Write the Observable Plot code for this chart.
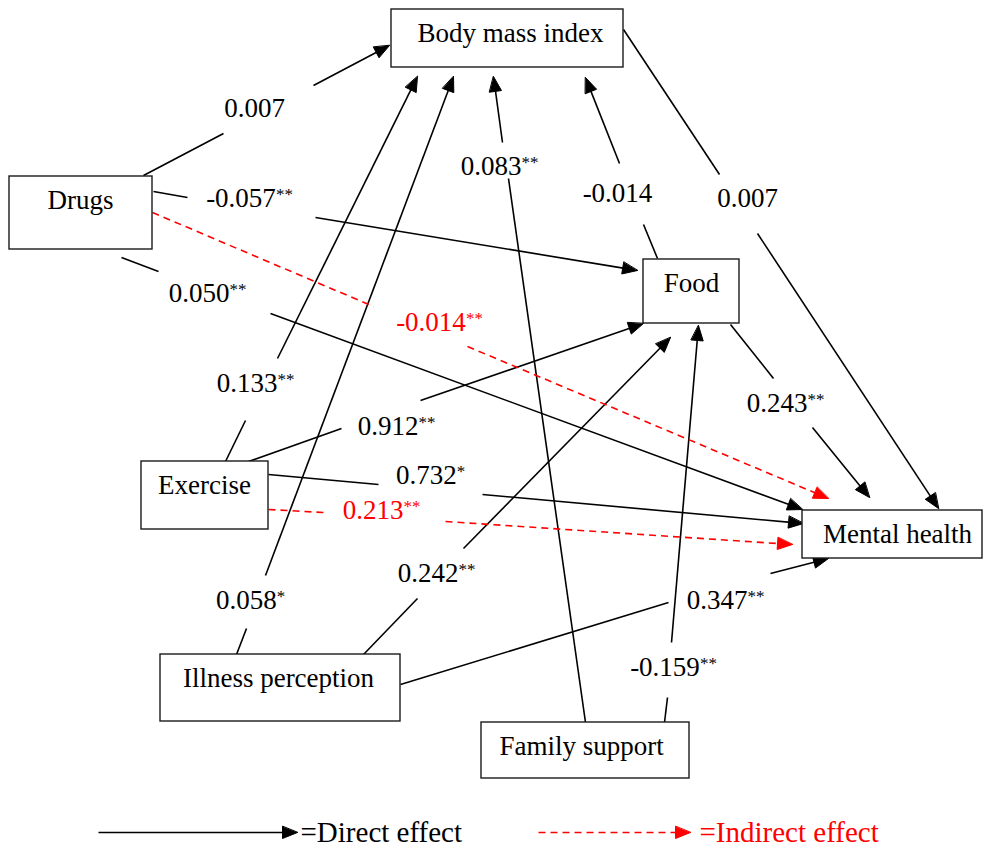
<!DOCTYPE html>
<html>
<head>
<meta charset="utf-8">
<script src="https://cdn.jsdelivr.net/npm/d3@7"></script>
<script src="https://cdn.jsdelivr.net/npm/@observablehq/plot@0.6"></script>
<style>
  html, body { margin: 0; padding: 0; background: #fff; overflow: hidden; }
</style>
</head>
<body>
<div id="chart"></div>
<script>
// ---- Nodes (boxes of the path diagram) ----
const nodeNames  = ["Body mass index", "Drugs", "Food", "Exercise", "Mental health", "Illness perception", "Family support"];
const nodeLeft   = [391,   9, 643, 141, 802, 160, 481];
const nodeRight  = [623, 152, 739, 268, 982, 400, 689];
const nodeTop    = [  9, 176, 259, 461, 510, 654, 722];
const nodeBottom = [ 67, 249, 323, 529, 558, 721, 778];
const nodeLabelX = [510,  80, 691, 204, 897, 278, 581];

// ---- Paths (coefficients) ----
const pathSource = ["Drugs","Drugs","Drugs","Exercise","Illness perception","Family support","Food","Body mass index","Exercise","Exercise","Illness perception","Family support","Food","Illness perception","Drugs","Exercise"];
const pathTarget = ["Body mass index","Food","Mental health","Body mass index","Body mass index","Body mass index","Body mass index","Mental health","Food","Mental health","Food","Food","Mental health","Mental health","Mental health","Mental health"];
const pathValue  = ["0.007","-0.057","0.050","0.133","0.058","0.083","-0.014","0.007","0.912","0.732","0.242","-0.159","0.243","0.347","-0.014","0.213"];
const pathStars  = ["","**","**","**","*","**","","","**","*","**","**","**","**","**","**"];
const pathKind   = ["direct","direct","direct","direct","direct","direct","direct","direct","direct","direct","direct","direct","direct","direct","indirect","indirect"];
// line geometry: tail -> gap start | label | gap end -> arrow head
const pathTail     = [[143,175],[153,191],[121,257],[225,461],[236,654],[585,722],[657,258],[623,29],[248,461],[268,474],[363,654],[664,722],[730,324],[400,684],[152,212],[268,509]];
const pathGapStart = [[223,133],[187,197],[158,271],[245,420],[246,628],[508,178],[643,224],[719,174],[341,428],[378,484],[417,598],[667,697],[773,378],[668,602],[373,306],[323,512]];
const pathGapEnd   = [[313,85],[315,217],[270,313],[277,358],[265,575],[502,142],[619,163],[757,233],[420,400],[482,494],[463,548],[671,642],[812,427],[770,573],[467,346],[445,521]];
const pathHead     = [[389,45],[637,270],[802,509],[417,76],[453,76],[493,76],[585,77],[938,508],[643,323],[803,523],[670,337],[698,325],[869,497],[828,558],[828,498],[792,544]];
const pathLabelAt  = [[254,108],[249,198],[207,293],[255,383],[250,600],[499,166],[617,193],[747,198],[396,426],[430,475],[436,573],[673,667],[785,403],[725,600],[439,322],[381,510]];

// ---- Legend ----
const legendLabels = ["=Direct effect", "=Indirect effect"];
const legendKinds  = ["direct", "indirect"];
const legendFrom   = [[98,832],[538,832]];
const legendTo     = [[297,832],[690,832]];
const legendTextX  = [300, 699];

// ---- build tables ----
const colorOf = k => k === "indirect" ? "#ff0000" : "#000000";
const HEAD_LEN = 15, HEAD_HALF = 6;

const nodes = nodeNames.map((name, i) => ({
  name, x1: nodeLeft[i], x2: nodeRight[i], y1: nodeTop[i], y2: nodeBottom[i],
  lx: nodeLabelX[i], ly: nodeTop[i] + 23.5
}));

function headBase(from, to) {
  const dx = to[0] - from[0], dy = to[1] - from[1];
  const L = Math.hypot(dx, dy), ux = dx / L, uy = dy / L;
  return {ux, uy, bx: to[0] - ux * HEAD_LEN, by: to[1] - uy * HEAD_LEN};
}

const segments = [];
const triangles = [];
const labels = [];
pathValue.forEach((v, i) => {
  const kind = pathKind[i];
  const t = pathTail[i], a = pathGapStart[i], b = pathGapEnd[i], h = pathHead[i];
  const hb = headBase(b, h);
  segments.push({kind, x1: t[0], y1: t[1], x2: a[0], y2: a[1]});
  segments.push({kind, x1: b[0], y1: b[1], x2: hb.bx + hb.ux * 2, y2: hb.by + hb.uy * 2});
  const nx = -hb.uy, ny = hb.ux;
  const id = "p" + i;
  triangles.push({id, kind, x: h[0], y: h[1]});
  triangles.push({id, kind, x: hb.bx + nx * HEAD_HALF, y: hb.by + ny * HEAD_HALF});
  triangles.push({id, kind, x: hb.bx - nx * HEAD_HALF, y: hb.by - ny * HEAD_HALF});
  labels.push({kind, text: v + pathStars[i], x: pathLabelAt[i][0], y: pathLabelAt[i][1]});
});

legendLabels.forEach((lab, i) => {
  const kind = legendKinds[i];
  const f = legendFrom[i], to = legendTo[i];
  const hb = headBase(f, to);
  segments.push({kind, x1: f[0], y1: f[1], x2: hb.bx + hb.ux * 2, y2: hb.by + hb.uy * 2});
  const nx = -hb.uy, ny = hb.ux, id = "l" + i;
  triangles.push({id, kind, x: to[0], y: to[1]});
  triangles.push({id, kind, x: hb.bx + nx * HEAD_HALF, y: hb.by + ny * HEAD_HALF});
  triangles.push({id, kind, x: hb.bx - nx * HEAD_HALF, y: hb.by - ny * HEAD_HALF});
});
const legendRows = legendLabels.map((text, i) => ({text, kind: legendKinds[i], x: legendTextX[i], y: legendFrom[i][1]}));

const FONT = "'Liberation Serif', 'Times New Roman', serif";
const isDirect = d => d.kind === "direct";
const isIndirect = d => d.kind === "indirect";

const chart = Plot.plot({
  width: 983,
  height: 847,
  margin: 0,
  x: {domain: [0, 983], range: [0, 983], axis: null},
  y: {domain: [0, 847], range: [0, 847], axis: null},
  style: {background: "#fff", fontFamily: FONT},
  marks: [
    Plot.link(segments.filter(isDirect), {x1: "x1", y1: "y1", x2: "x2", y2: "y2", stroke: "#000", strokeWidth: 1.6}),
    Plot.link(segments.filter(isIndirect), {x1: "x1", y1: "y1", x2: "x2", y2: "y2", stroke: "#ff0000", strokeWidth: 1.6, strokeDasharray: "7,5"}),
    Plot.line(triangles.filter(isDirect), {x: "x", y: "y", z: "id", fill: "#000", stroke: "#000", strokeWidth: 1, curve: "linear-closed"}),
    Plot.line(triangles.filter(isIndirect), {x: "x", y: "y", z: "id", fill: "#ff0000", stroke: "#ff0000", strokeWidth: 1, curve: "linear-closed"}),
    Plot.rect(nodes, {x1: "x1", x2: "x2", y1: "y1", y2: "y2", fill: "#fff", stroke: "#1a1a1a", strokeWidth: 1.4}),
    Plot.text(nodes, {x: "lx", y: "ly", text: "name", fontSize: 27, fontFamily: FONT, fill: "#000"}),
    Plot.text(labels, {x: "x", y: "y", text: "text", fontSize: 27, fontFamily: FONT, fill: d => colorOf(d.kind)}),
    Plot.text(legendRows, {x: "x", y: "y", text: "text", fontSize: 29, fontFamily: FONT, textAnchor: "start", fill: d => colorOf(d.kind)})
  ]
});

// render significance stars as superscripts
chart.querySelectorAll("text").forEach(el => {
  const m = /^(.*?)(\*+)$/.exec(el.textContent);
  if (!m) return;
  el.textContent = m[1];
  const ts = document.createElementNS("http://www.w3.org/2000/svg", "tspan");
  ts.setAttribute("font-size", "17");
  ts.setAttribute("dy", "-7");
  ts.textContent = m[2];
  el.appendChild(ts);
});

document.getElementById("chart").appendChild(chart);
</script>
</body>
</html>
